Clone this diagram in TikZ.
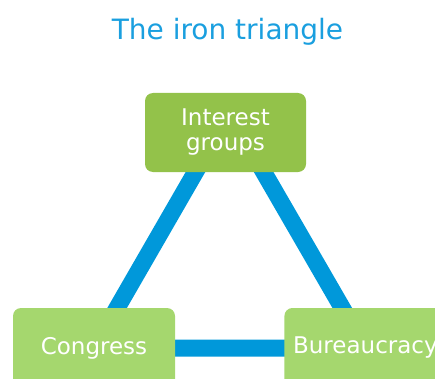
\documentclass[tikz,border=0pt]{standalone}
\usepackage{fontspec}
\setmainfont{DejaVu Sans}
\usetikzlibrary{positioning,backgrounds}

\definecolor{irontitle}{HTML}{1A9FDF}
\definecolor{ironblue}{HTML}{0098DA}
\definecolor{groupgreen}{HTML}{93C24A}
\definecolor{branchgreen}{HTML}{A5D76E}

\tikzset{
	actor/.style={rectangle, rounded corners=8pt, fill=branchgreen, text=white,
		minimum width=162pt, minimum height=80pt, align=center, inner sep=0pt,
		font=\fontsize{23}{25}\selectfont},
	lobby/.style={actor, fill=groupgreen, minimum width=161pt, minimum height=79pt},
	link/.style={ironblue, line width=17pt, line join=miter},
}

\begin{document}
\begin{tikzpicture}[x=1pt, y=1pt]
		\clip (0,0) rectangle (435,378);
		\useasboundingbox (0,0) rectangle (435,378);
		
		\node[irontitle, font=\fontsize{28}{30}\selectfont] (title) at (227.5,346) {The iron triangle};
		
		\node[lobby] (groups) at (225.5,245.5) {Interest\\groups};
		\node[actor] (congress) at (94,30) {Congress};
		\node[actor, right = 109pt of congress] (bureau) {Bureaucracy};
		
		\begin{scope}[on background layer]
			\draw[link] ([shift={(4pt,19.5pt)}]groups.center) -- (congress.center)
				-- (bureau.center) -- cycle;
		\end{scope}
		
	\end{tikzpicture}
\end{document}
